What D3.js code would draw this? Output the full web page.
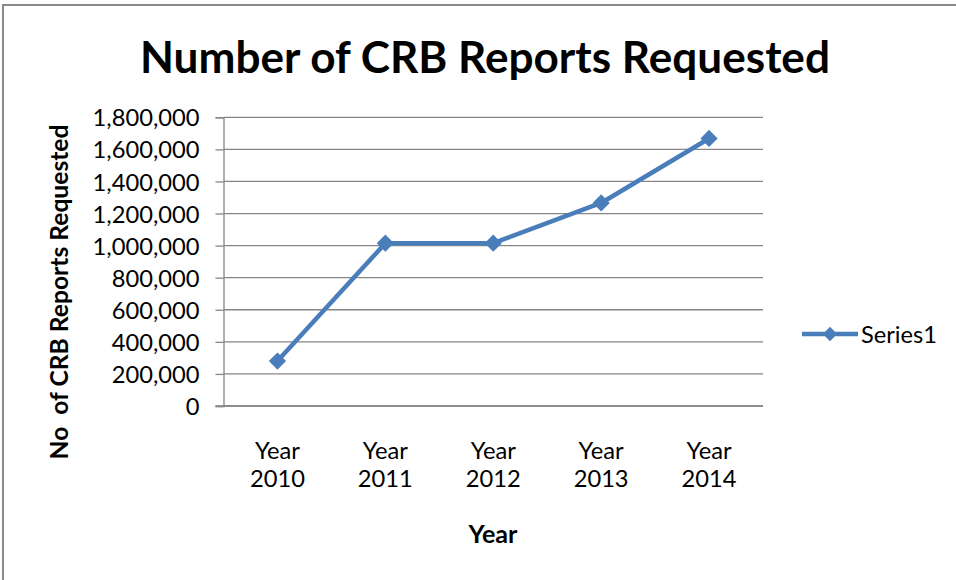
<!DOCTYPE html>
<html>
<head>
<meta charset="utf-8">
<script src="https://cdn.jsdelivr.net/npm/d3@7"></script>
<style>
  html, body { margin: 0; padding: 0; background: #fff; }
  svg { display: block; }
  text { font-family: Lato, "Open Sans", sans-serif; fill: #000; }
</style>
</head>
<body>
<svg id="chart" width="956" height="580"></svg>
<script>
// ---- data ----
const categories = ["Year 2010", "Year 2011", "Year 2012", "Year 2013", "Year 2014"];
const values = [280000, 1015000, 1015000, 1266000, 1668000];
const yTicks = [0, 200000, 400000, 600000, 800000, 1000000, 1200000, 1400000, 1600000, 1800000];
const seriesName = "Series1";
const titleText = "Number of CRB Reports Requested";
const yTitleText = "No  of CRB Reports Requested";
const xTitleText = "Year";

// ---- layout ----
const W = 956, H = 580;
const plot = { left: 223.5, right: 763, top: 117.3, bottom: 406 };
const lineColor = "#4a7ebb";
const gridColor = "#868686";

const svg = d3.select("#chart");

function fit(sel, target) {
  const base = 100;
  sel.style("font-size", base + "px");
  const w = sel.node().getComputedTextLength();
  const size = base * target / w;
  sel.style("font-size", size + "px");
  return size;
}

// outer frame
svg.append("rect")
  .attr("x", 3).attr("y", 5)
  .attr("width", W + 10).attr("height", H + 10)
  .attr("fill", "none").attr("stroke", "#8a8a8a").attr("stroke-width", 2);

const x = d3.scalePoint().domain(categories).range([plot.left, plot.right]).padding(0.5);
const y = d3.scaleLinear().domain([0, 1800000]).range([plot.bottom, plot.top]);

// gridlines
svg.append("g").selectAll("line")
  .data(yTicks)
  .join("line")
  .attr("x1", plot.left).attr("x2", plot.right)
  .attr("y1", d => y(d)).attr("y2", d => y(d))
  .attr("stroke", gridColor).attr("stroke-width", 1.3);

// y axis
const fmt = d3.format(",");
const yAxis = svg.append("g")
  .attr("transform", `translate(${plot.left},0)`)
  .call(d3.axisLeft(y).tickValues(yTicks).tickSize(8).tickPadding(16).tickFormat(d => fmt(d)));
yAxis.select(".domain").attr("stroke", gridColor).attr("stroke-width", 1.3);
yAxis.selectAll(".tick line").attr("stroke", gridColor).attr("stroke-width", 1.3);
const tickTexts = yAxis.selectAll(".tick text")
  .attr("font-family", null)
  .style("fill", "#000");
let tickSize = 23.5;
tickTexts.filter(d => d === 1800000).each(function() { tickSize = fit(d3.select(this), 107); });
tickTexts.style("font-size", tickSize + "px").attr("dy", "0.36em");
yAxis.attr("font-size", null);

// x-axis line
svg.append("line")
  .attr("x1", plot.left - 8).attr("x2", plot.right)
  .attr("y1", plot.bottom).attr("y2", plot.bottom)
  .attr("stroke", gridColor).attr("stroke-width", 1.3);

// x labels (two lines)
const xl = svg.append("g").selectAll("text")
  .data(categories)
  .join("text")
  .attr("text-anchor", "middle")
  .attr("x", d => x(d))
  .attr("y", 459);
xl.append("tspan").attr("x", d => x(d)).attr("y", 459).text(d => d.split(" ")[0]);
xl.append("tspan").attr("x", d => x(d)).attr("y", 487).text(d => d.split(" ")[1]);
xl.style("font-size", tickSize + "px");

// line
const line = d3.line().x((d, i) => x(categories[i])).y(d => y(d));
svg.append("path")
  .datum(values)
  .attr("d", line)
  .attr("fill", "none")
  .attr("stroke", lineColor)
  .attr("stroke-width", 4.5)
  .attr("stroke-linejoin", "round");

// markers
const diamond = d3.symbol().type(d3.symbolDiamond2).size(190);
svg.append("g").selectAll("path")
  .data(values)
  .join("path")
  .attr("transform", (d, i) => `translate(${x(categories[i])},${y(d)})`)
  .attr("d", diamond)
  .attr("fill", lineColor);

// title
const title = svg.append("text")
  .attr("x", 485).attr("y", 73)
  .attr("text-anchor", "middle")
  .style("font-weight", "bold")
  .text(titleText);
fit(title, 690);

// y title
const yt = svg.append("text")
  .attr("transform", "translate(68,292) rotate(-90)")
  .attr("text-anchor", "middle")
  .style("font-weight", "bold")
  .style("white-space", "pre")
  .text(yTitleText);
fit(yt, 335);

// x title
const xt = svg.append("text")
  .attr("x", 493).attr("y", 543)
  .attr("text-anchor", "middle")
  .style("font-weight", "bold")
  .text(xTitleText);
fit(xt, 49);

// legend
const lg = svg.append("g");
lg.append("line")
  .attr("x1", 802).attr("x2", 858)
  .attr("y1", 334).attr("y2", 334)
  .attr("stroke", lineColor).attr("stroke-width", 4.5);
lg.append("path")
  .attr("transform", "translate(830,334)")
  .attr("d", d3.symbol().type(d3.symbolDiamond2).size(130))
  .attr("fill", lineColor);
const lt = lg.append("text")
  .attr("x", 861).attr("y", 343)
  .text(seriesName);
fit(lt, 76);
</script>
</body>
</html>
